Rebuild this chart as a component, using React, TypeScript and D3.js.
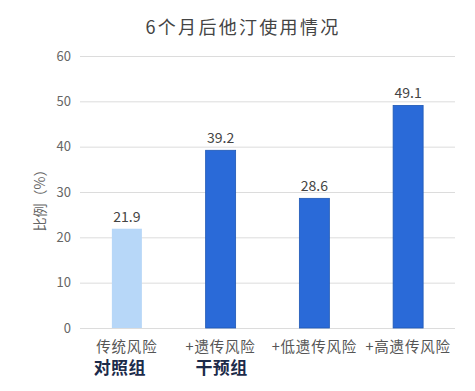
import { useEffect, useRef } from "react";
import * as d3 from "d3";

const categories = ["传统风险", "+遗传风险", "+低遗传风险", "+高遗传风险"];
const values = [21.9, 39.2, 28.6, 49.1];
const groups = [
  { label: "对照组", from: 0 },
  { label: "干预组", from: 1 },
];
const yTicks = [0, 10, 20, 30, 40, 50, 60];
const font = "'Microsoft YaHei', 'Noto Sans CJK SC', 'Noto Sans', sans-serif";

function Chart() {
  const ref = useRef<SVGSVGElement>(null);

  useEffect(() => {
    const svg = d3.select(ref.current);
    svg.selectAll("*").remove();

    const width = 475;
    const height = 391;
    const margin = { top: 56, right: 20, bottom: 63, left: 80 };

    const x = d3
      .scaleBand()
      .domain(categories)
      .range([margin.left, width - margin.right])
      .paddingInner(0.68)
      .paddingOuter(0.34);

    const y = d3
      .scaleLinear()
      .domain([0, 60])
      .range([height - margin.bottom, margin.top]);

    svg.attr("width", width).attr("height", height).style("font-family", font);

    // title
    svg
      .append("text")
      .attr("x", 243)
      .attr("y", 34)
      .attr("text-anchor", "middle")
      .attr("font-size", 18)
      .attr("letter-spacing", 2.3)
      .attr("fill", "#444")
      .text("6个月后他汀使用情况");

    // grid
    svg
      .append("g")
      .selectAll("line")
      .data(yTicks)
      .join("line")
      .attr("x1", margin.left)
      .attr("x2", width - margin.right)
      .attr("y1", (d) => y(d) + 0.5)
      .attr("y2", (d) => y(d) + 0.5)
      .attr("stroke", "#dcdcdc")
      .attr("stroke-width", 1);

    // y labels
    svg
      .append("g")
      .selectAll("text")
      .data(yTicks)
      .join("text")
      .attr("x", 71)
      .attr("y", (d) => y(d) + 4.5)
      .attr("text-anchor", "end")
      .attr("font-size", 13)
      .attr("fill", "#666")
      .text((d) => d);

    svg
      .append("text")
      .attr("transform", `translate(45,197) rotate(-90)`)
      .attr("text-anchor", "middle")
      .attr("font-size", 14)
      .attr("fill", "#666")
      .text("比例（%）");

    // bars
    svg
      .append("g")
      .selectAll("rect")
      .data(values)
      .join("rect")
      .attr("x", (_, i) => x(categories[i])!)
      .attr("y", (d) => y(d))
      .attr("width", x.bandwidth())
      .attr("height", (d) => y(0) - y(d))
      .attr("fill", (_, i) => (i === 0 ? "#b7d7f8" : "#2a6ad8"))
      .attr("stroke", (_, i) => (i === 0 ? "none" : "#1f58b5"))
      .attr("stroke-width", 0.8);

    // value labels
    svg
      .append("g")
      .selectAll("text")
      .data(values)
      .join("text")
      .attr("x", (_, i) => x(categories[i])! + x.bandwidth() / 2)
      .attr("y", (d) => y(d) - 7)
      .attr("text-anchor", "middle")
      .attr("font-size", 14)
      .attr("fill", "#444")
      .text((d) => d.toFixed(1));

    // category labels
    svg
      .append("g")
      .selectAll("text")
      .data(categories)
      .join("text")
      .attr("x", (d) => x(d)! + x.bandwidth() / 2)
      .attr("y", 352)
      .attr("text-anchor", "middle")
      .attr("font-size", 14.5)
      .attr("letter-spacing", 0.8)
      .attr("fill", "#555")
      .text((d) => d);

    // group labels
    const groupShift = [-7, 1];
    svg
      .append("g")
      .selectAll("text")
      .data(groups)
      .join("text")
      .attr("x", (d, i) => x(categories[d.from])! + x.bandwidth() / 2 + groupShift[i])
      .attr("y", 374)
      .attr("text-anchor", "middle")
      .attr("font-size", 17)
      .attr("letter-spacing", 0.5)
      .attr("font-weight", "bold")
      .attr("fill", "#1c2b4a")
      .text((d) => d.label);
  }, []);

  return <svg ref={ref}></svg>;
}

export default function App() {
  return (
    <div style={{ position: "absolute", left: 0, top: 0 }}>
      <Chart />
    </div>
  );
}
